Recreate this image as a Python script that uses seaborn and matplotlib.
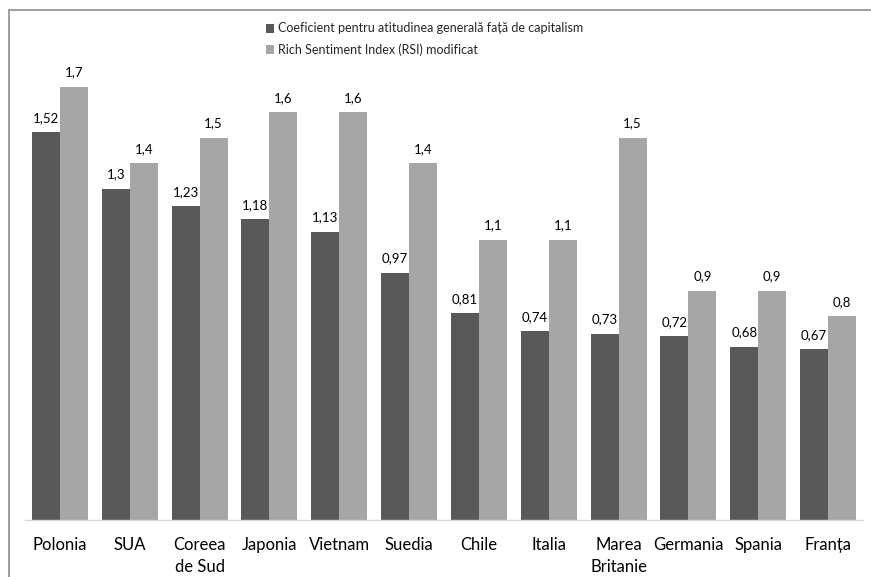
import pandas as pd
import seaborn as sns
import matplotlib.pyplot as plt
from matplotlib.patches import Rectangle

# data
countries = ["Polonia", "SUA", "Coreea\nde Sud", "Japonia", "Vietnam", "Suedia",
             "Chile", "Italia", "Marea\nBritanie", "Germania", "Spania", "Franța"]
coef_values = [1.52, 1.3, 1.23, 1.18, 1.13, 0.97, 0.81, 0.74, 0.73, 0.72, 0.68, 0.67]
rsi_values = [1.7, 1.4, 1.5, 1.6, 1.6, 1.4, 1.1, 1.1, 1.5, 0.9, 0.9, 0.8]
series_names = ["Coeficient pentru atitudinea generală față de capitalism",
                "Rich Sentiment Index (RSI) modificat"]

df = pd.DataFrame({
    "tara": countries * 2,
    "valoare": coef_values + rsi_values,
    "serie": [series_names[0]] * len(countries) + [series_names[1]] * len(countries),
})

sns.set_style("white")
plt.rcParams["font.family"] = ["Lato", "DejaVu Sans"]

fig = plt.figure(figsize=(8.71, 5.77), dpi=100)
ax = fig.add_axes([25 / 871, 57 / 577, 838 / 871, 510 / 577])

sns.barplot(data=df, x="tara", y="valoare", hue="serie", order=countries,
            hue_order=series_names, palette=["#595959", "#A6A6A6"],
            width=0.8, gap=0, saturation=1, ax=ax, edgecolor="none")

for cont in ax.containers:
    labels = [f"{b.get_height():g}".replace(".", ",") for b in cont]
    ax.bar_label(cont, labels=labels, padding=6, fontsize=9.5, color="#000000")

ax.set_xlim(-0.5, len(countries) - 0.5)
ax.set_ylim(0, 2.0)
ax.set_xlabel("")
ax.set_ylabel("")
ax.set_yticks([])
ax.tick_params(axis="x", length=0, pad=12, labelsize=12, colors="#000000")
for lbl in ax.get_xticklabels():
    lbl.set_linespacing(1.45)
for s in ["top", "right", "left"]:
    ax.spines[s].set_visible(False)
ax.spines["bottom"].set_color("#D9D9D9")
ax.spines["bottom"].set_linewidth(1)

leg = ax.legend(loc="upper left", bbox_to_anchor=(228 / 838, 1.0), frameon=False,
                fontsize=9, handlelength=0.7, handleheight=0.7, handletextpad=0.3,
                labelspacing=0.7, borderaxespad=0.6)

# outer frame of the cropped chart (top and left edges only visible)
fig.patches.append(Rectangle((9 / 871, -0.1), 1.2, (577 - 10) / 577 + 0.1,
                             transform=fig.transFigure, fill=False,
                             edgecolor="#8C8C8C", linewidth=1.2))

fig.savefig("out.png", dpi=100)
